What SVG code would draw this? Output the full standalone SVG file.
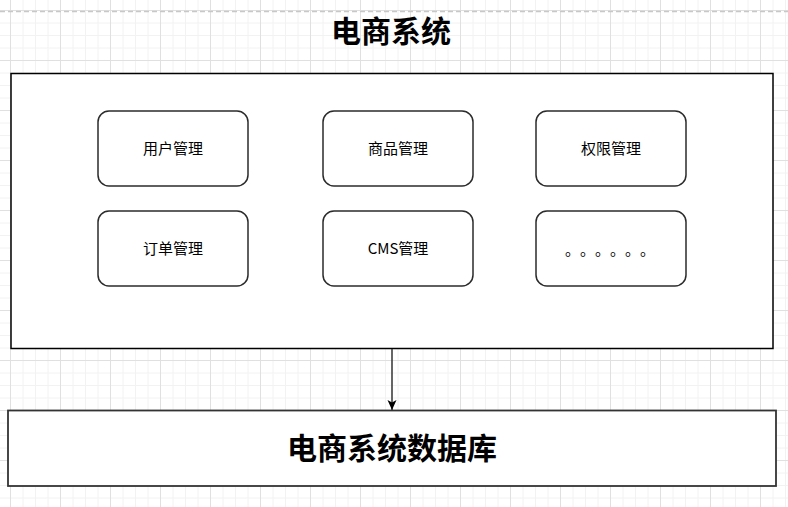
<svg xmlns="http://www.w3.org/2000/svg" width="788" height="507" viewBox="0 0 788 507">
  <defs>
    <pattern id="grid" patternUnits="userSpaceOnUse" x="10" y="10" width="50" height="50">
      <path d="M13,0 V50 M25.5,0 V50 M38,0 V50 M0,13 H50 M0,25.5 H50 M0,38 H50" stroke="#f2f2f2" stroke-width="1" fill="none"/>
      <path d="M0.5,0 V50 M0,0.5 H50" stroke="#e0e0e0" stroke-width="1" fill="none"/>
    </pattern>
    <marker id="arrow" viewBox="0 0 10 10" refX="10" refY="5" markerWidth="10" markerHeight="10" markerUnits="userSpaceOnUse" orient="auto">
      <path d="M10,5 L0,0.5 L2.5,5 L0,9.5 Z" fill="#000"/>
    </marker>
    <style>
      .node rect { fill: #ffffff; stroke: #2b2b2b; stroke-width: 1.5; }
      .label { font-family: "Noto Sans CJK SC", "Liberation Sans", sans-serif; font-size: 15px; fill: #000; text-anchor: middle; }
      .big { font-family: "Noto Sans CJK SC", "Liberation Sans", sans-serif; font-size: 30px; font-weight: bold; fill: #000; text-anchor: middle; }
    </style>
  </defs>

  <rect x="0" y="0" width="788" height="507" fill="#ffffff"/>
  <rect x="0" y="0" width="788" height="507" fill="url(#grid)"/>
  <line x1="0" y1="11.5" x2="788" y2="11.5" stroke="#c8c8c8" stroke-width="1.5" stroke-dasharray="5 3"/>

  <g id="title">
    <text class="big" x="391" y="42">电商系统</text>
  </g>

  <g id="system">
    <rect x="11" y="73.5" width="762" height="275" fill="#ffffff" stroke="#000" stroke-width="1.5"/>
  </g>

  <g id="node-user" class="node">
    <rect x="98" y="111" width="150" height="75" rx="11" ry="11"/>
    <text class="label" x="173" y="154">用户管理</text>
  </g>
  <g id="node-goods" class="node">
    <rect x="323" y="111" width="150" height="75" rx="11" ry="11"/>
    <text class="label" x="398" y="154">商品管理</text>
  </g>
  <g id="node-perm" class="node">
    <rect x="536" y="111" width="150" height="75" rx="11" ry="11"/>
    <text class="label" x="611" y="154">权限管理</text>
  </g>
  <g id="node-order" class="node">
    <rect x="98" y="211" width="150" height="75" rx="11" ry="11"/>
    <text class="label" x="173" y="254">订单管理</text>
  </g>
  <g id="node-cms" class="node">
    <rect x="323" y="211" width="150" height="75" rx="11" ry="11"/>
    <text class="label" x="398" y="254">CMS管理</text>
  </g>
  <g id="node-more" class="node">
    <rect x="536" y="211" width="150" height="75" rx="11" ry="11"/>
    <text class="label" x="572.5 587.5 602.5 617.5 632.5 647.5" y="255">。。。。。。</text>
  </g>

  <g id="connectors">
    <line x1="392" y1="349" x2="392" y2="410" stroke="#333" stroke-width="1.5" marker-end="url(#arrow)"/>
  </g>

  <g id="database">
    <rect x="8" y="410.5" width="768" height="75.5" fill="#ffffff" stroke="#333" stroke-width="1.8"/>
    <text class="big" x="392" y="459">电商系统数据库</text>
  </g>
</svg>
